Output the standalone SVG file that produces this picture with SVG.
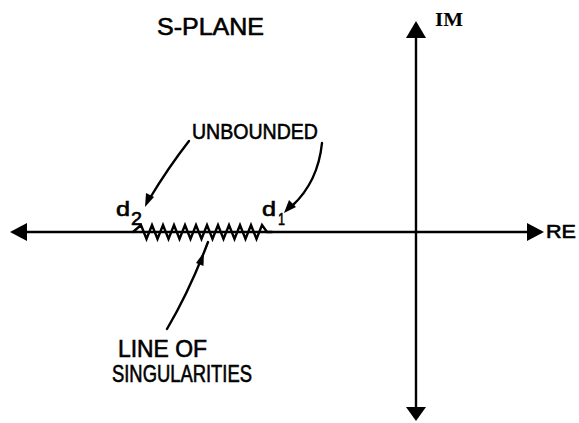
<svg xmlns="http://www.w3.org/2000/svg" width="579" height="423" viewBox="0 0 579 423">
<style>
.t{font-family:"Liberation Sans",Arial,sans-serif;fill:#000;stroke:#000;stroke-width:0.6}
.s{font-family:"Liberation Serif","Times New Roman",serif;font-weight:bold;fill:#000}
.ln{fill:none;stroke:#000;stroke-width:2.4;stroke-linecap:round}
.ah{fill:#000;stroke:none}
</style>
<rect width="579" height="423" fill="#fff"/>
<g id="axes">
<line class="ln" x1="24" y1="232" x2="530" y2="232"/>
<line class="ln" x1="416" y1="35" x2="416" y2="409"/>
<polygon class="ah" points="10,232 27,223 27,241"/>
<polygon class="ah" points="544,232 527,223 527,241"/>
<polygon class="ah" points="416,21 406,38 426,38"/>
<polygon class="ah" points="416,421 406,407 426,407"/>
</g>
<g id="singularities">
<polyline class="ln" stroke-width="3" stroke-linejoin="miter" points="133,232 141,225 146.5,239 152,225 157.5,239 163,225 168.5,239 174,225 179.5,239 185,225 190.5,239 196,225 201.5,239 207,225 212.5,239 218,225 223.5,239 229,225 234.5,239 240,225 245.5,239 251,225 256.5,239 262,225 267,232 272,232"/>
</g>
<g id="labels">
<text class="t" x="157" y="35" font-size="24" textLength="107" lengthAdjust="spacingAndGlyphs">S-PLANE</text>
<text class="s" x="435" y="26" font-size="18" textLength="28" lengthAdjust="spacingAndGlyphs">IM</text>
<text class="t" x="546" y="238" font-size="18" textLength="30" lengthAdjust="spacingAndGlyphs">RE</text>
<text class="t" x="192" y="139" font-size="22" textLength="126" lengthAdjust="spacingAndGlyphs">UNBOUNDED</text>
<text class="t" x="116" y="216" font-size="20" textLength="14" lengthAdjust="spacingAndGlyphs">d</text>
<text class="t" x="131" y="225" font-size="18" textLength="11" lengthAdjust="spacingAndGlyphs">2</text>
<text class="t" x="262" y="216" font-size="20" textLength="14" lengthAdjust="spacingAndGlyphs">d</text>
<text class="t" x="278" y="225" font-size="17" textLength="7" lengthAdjust="spacingAndGlyphs">1</text>
<text class="t" x="118" y="357" font-size="23" textLength="89" lengthAdjust="spacingAndGlyphs">LINE OF</text>
<text class="t" x="112" y="382" font-size="24" textLength="140" lengthAdjust="spacingAndGlyphs">SINGULARITIES</text>
</g>
<g id="connectors">
<path class="ln" d="M189,141 Q168,168 150,198"/>
<polygon class="ah" points="145,207 146,193 154,197"/>
<path class="ln" d="M322,143 Q318,182 292,206"/>
<polygon class="ah" points="284,213 289,200 296,207"/>
<path class="ln" d="M167,329 Q190,290 208,242"/>
<polygon class="ah" points="204,252 203.5,266 196,263"/>
</g>
</svg>
